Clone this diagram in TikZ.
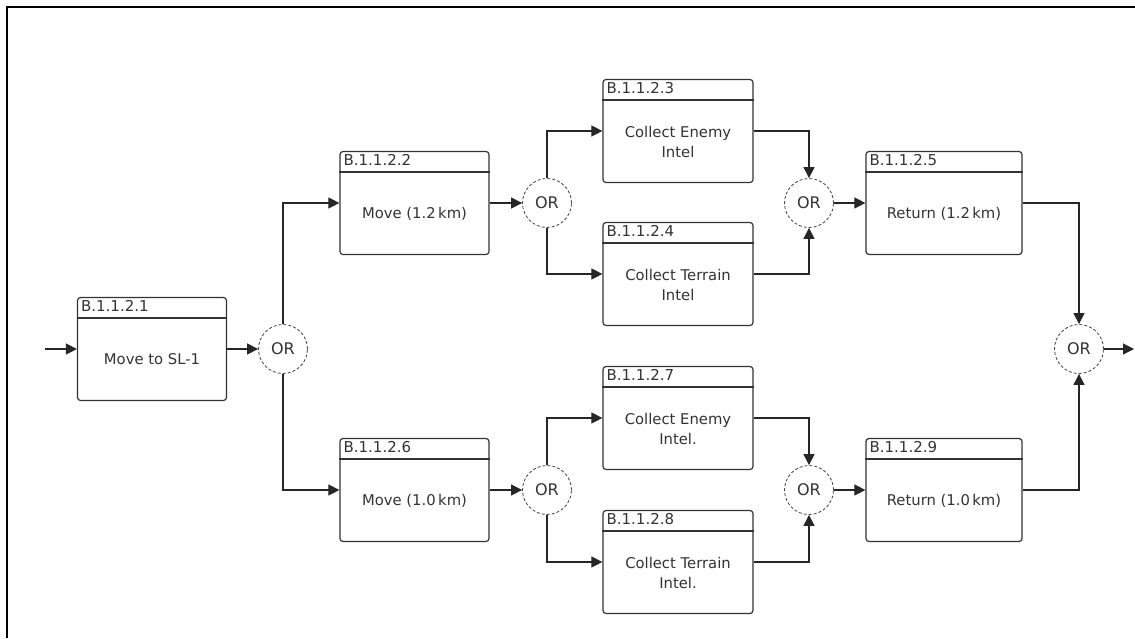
\documentclass[tikz,border=0pt]{standalone}
\usepackage{fontspec}
\setmainfont{DejaVu Sans}
\usetikzlibrary{arrows.meta, positioning}

\begin{document}
\begin{tikzpicture}[x=1pt, y=-1pt,
    func/.style={rectangle, draw=black!80, line width=1.2pt, rounded corners=3pt, minimum height=103pt, inner sep=0pt},
    funcid/.style={anchor=north west, inner xsep=4pt, inner ysep=3.5pt, font=\fontsize{15}{17}\selectfont, text=black!80},
    functext/.style={align=center, font=\fontsize{14.8}{20}\selectfont, text=black!80},
    gate/.style={circle, draw=black!75, densely dashed, line width=0.8pt, minimum size=49pt, inner sep=0pt, font=\fontsize{16}{18}\selectfont, text=black!80},
    link/.style={line width=1.1pt, draw=black!85, -{Triangle[length=11pt, width=11pt]}},
    wire/.style={line width=1.1pt, draw=black!85}]

    \useasboundingbox (0,0) rectangle (1135,638);
    \draw[line width=2.5pt] (7,638) -- (7,7) -- (1135,7);

    % function blocks
    \foreach \n/\x/\y/\w/\id/\t in {
        b1/152/349/149/B.1.1.2.1/Move to SL-1,
        b2/414.5/203/149/B.1.1.2.2/Move (1.2\,km),
        b3/678/131/150/B.1.1.2.3/Collect Enemy\\Intel,
        b4/678/274/150/B.1.1.2.4/Collect Terrain\\Intel,
        b5/944/203/156/B.1.1.2.5/Return (1.2\,km),
        b6/414.5/490/149/B.1.1.2.6/Move (1.0\,km),
        b7/678/418/150/B.1.1.2.7/Collect Enemy\\Intel.,
        b8/678/562/150/B.1.1.2.8/Collect Terrain\\Intel.,
        b9/944/490/156/B.1.1.2.9/Return (1.0\,km)} {
        \node[func, minimum width=\w pt] (\n) at (\x,\y) {};
        \draw[line width=1.2pt, black!80] ([yshift=-21pt]\n.north west) -- ([yshift=-21pt]\n.north east);
        \node[funcid] (\n-id) at (\n.north west) {\id};
        \node[functext] (\n-txt) at ([yshift=-10.5pt]\n.center) {\t};
    }

    % OR gates
    \node[gate] (g1) at (283,349) {OR};
    \node[gate] (g2) at (547,203) {OR};
    \node[gate] (g3) at (809,203) {OR};
    \node[gate] (g4) at (547,490) {OR};
    \node[gate] (g5) at (809,490) {OR};
    \node[gate] (g6) at (1079,349) {OR};

    \coordinate (start) at (45,349);
    \coordinate (end) at (1134,349);

    \draw[link] (start) -- (b1.west);
    \draw[link] (b1.east) -- (g1.west);
    \draw[link] (g1.north) |- (b2.west);
    \draw[link] (g1.south) |- (b6.west);

    \draw[link] (b2.east) -- (g2.west);
    \draw[link] (g2.north) |- (b3.west);
    \draw[link] (g2.south) |- (b4.west);
    \draw[link] (b3.east) -| (g3.north);
    \draw[link] (b4.east) -| (g3.south);
    \draw[link] (g3.east) -- (b5.west);

    \draw[link] (b6.east) -- (g4.west);
    \draw[link] (g4.north) |- (b7.west);
    \draw[link] (g4.south) |- (b8.west);
    \draw[link] (b7.east) -| (g5.north);
    \draw[link] (b8.east) -| (g5.south);
    \draw[link] (g5.east) -- (b9.west);

    \draw[link] (b5.east) -| (g6.north);
    \draw[link] (b9.east) -| (g6.south);
    \draw[link] (g6.east) -- (end);
\end{tikzpicture}
\end{document}
